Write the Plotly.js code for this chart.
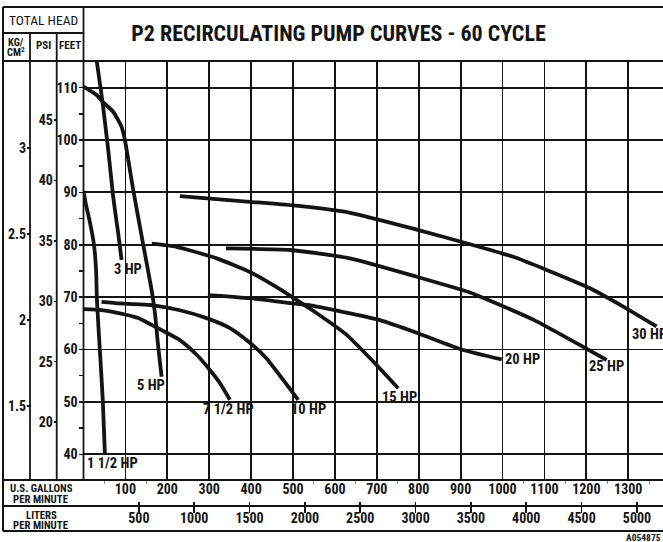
<!DOCTYPE html>
<html>
<head>
<meta charset="utf-8">
<script src="https://cdn.plot.ly/plotly-3.0.1.min.js"></script>
<style>html,body{margin:0;padding:0;background:#fff;}#chart{width:663px;height:542px;}</style>
</head>
<body>
<div id="chart"></div>
<script>
// ---------- DATA ----------
const gpmTicks = [100,200,300,400,500,600,700,800,900,1000,1100,1200,1300];
const gpmMinorTicks = [50,150,550,650,750,1050,1150,1250,1350];
const litersTicks = [500,1000,1500,2000,2500,3000,3500,4000,4500,5000];
const feetTicks = [40,50,60,70,80,90,100,110];
const psiTicks = [20,25,30,35,40,45];
const kgTicks = [1.5,2,2.5,3];
const kgTickText = ['1.5','2','2.5','3'];

// curves: flow (US gpm) vs total head (feet)
const hp1_5_gpm = [0, 6, 15, 25, 30, 32, 39, 46, 51];
const hp1_5_ft  = [90.3, 87.6, 84.4, 80.0, 75.2, 69.5, 59.9, 50.4, 40.2];
const hp3_gpm = [31, 45.6, 59, 70.9, 82.8, 90.9];
const hp3_ft  = [115.4, 107.1, 98.1, 89.1, 82.2, 77.1];
const hp5_gpm = [0, 31.3, 45.6, 70.9, 90.9, 98.8, 118.6, 142.5, 162.5, 170.4, 178.3, 186.4];
const hp5_ft  = [110.2, 108.6, 107.3, 105.4, 102.5, 100.0, 90.5, 80.0, 71.4, 67.0, 60.5, 54.8];
const hp7_5_gpm = [0, 43.2, 86.9, 130.5, 162.5, 186.4, 230, 270, 301.7, 325.5, 349.4];
const hp7_5_ft  = [67.7, 67.5, 66.9, 66.0, 64.7, 63.7, 61.8, 59.0, 56.1, 53.6, 50.4];
const hp10_gpm = [43.2, 86.9, 158.5, 178.3, 230, 293.8, 349.4, 397, 437, 476.6, 512.4];
const hp10_ft  = [69.1, 68.8, 68.5, 68.3, 67.5, 66.0, 64.1, 61.3, 58.3, 54.2, 50.4];
const hp15_gpm = [163, 222, 318, 397, 461, 500, 548, 628, 700, 751];
const hp15_ft  = [80.2, 79.6, 77.4, 74.8, 71.9, 69.9, 67.4, 62.8, 57.0, 52.6];
const hp20_gpm = [296.9, 397.1, 487.8, 544.4, 635.8, 707.4, 795, 906.2, 997.9];
const hp20_ft  = [70.4, 69.8, 68.9, 68.4, 66.9, 65.6, 63.2, 59.9, 58.1];
const hp25_gpm = [339.9, 492.6, 635.8, 795, 922.2, 962, 1073.3, 1192.6, 1248.4];
const hp25_ft  = [79.3, 79.0, 77.4, 73.9, 70.9, 69.6, 65.7, 60.5, 58.0];
const hp30_gpm = [230, 397.1, 500.5, 636.5, 795, 922.2, 1025.5, 1105.3, 1208.6, 1288.1, 1367.8];
const hp30_ft  = [89.3, 88.2, 87.5, 86.1, 82.9, 80.1, 77.7, 75.2, 71.7, 68.2, 64.4];

const curveNames = ['1 1/2 HP','3 HP','5 HP','7 1/2 HP','10 HP','15 HP','20 HP','25 HP','30 HP'];
// label anchor positions (gpm, feet)
const labelGpm = [3, 106, 161, 345, 536, 755, 1001, 1249, 1304];
const labelFt  = [38.3, 75.2, 53.1, 48.5, 48.5, 50.8, 58.0, 56.7, 62.8];
const labelAnchor = ['left','center','center','center','center','center','left','center','left'];

// unit conversions
const FT_PER_PSI = 2.3067;
const FT_PER_KG = 32.81;
const L_PER_GAL = 3.78541;

// ---------- LAYOUT ----------
const W = 663, H = 542;
const F = '"Liberation Sans Narrow", "Arial Narrow", "Roboto Condensed", "DejaVu Sans Condensed", Arial, sans-serif';
const INK = '#141414';
const px = v => v / W;          // paper x from pixel
const py = v => (H - v) / H;    // paper y from pixel

const plotL = 83.5, plotT = 61, plotB = 480;
const ftRange = [35.09, 115.08];
const gpmRange = [0, 1383];

const curves = [
  [hp1_5_gpm, hp1_5_ft], [hp3_gpm, hp3_ft], [hp5_gpm, hp5_ft],
  [hp7_5_gpm, hp7_5_ft], [hp10_gpm, hp10_ft], [hp15_gpm, hp15_ft],
  [hp20_gpm, hp20_ft], [hp25_gpm, hp25_ft], [hp30_gpm, hp30_ft]
];
const traces = curves.map((c, i) => ({
  type: 'scatter', mode: 'lines', x: c[0], y: c[1], name: curveNames[i],
  xaxis: 'x', yaxis: 'y', hoverinfo: 'skip',
  line: {color: INK, width: 3.8, shape: 'spline', smoothing: 0.5}
}));

const tickFont = {family: F, size: 14, color: INK, weight: 700};

const annotations = curveNames.map((n, i) => ({
  text: n, x: labelGpm[i], y: labelFt[i], xref: 'x', yref: 'y',
  xanchor: labelAnchor[i], yanchor: 'middle', showarrow: false,
  font: {family: F, size: 14.5, color: INK, weight: 700}
}));
function txt(t, x, y, size, bold, xa, h) {
  const a = {text: t, x: px(x), y: py(y), xref: 'paper', yref: 'paper',
    xanchor: xa || 'center', yanchor: 'middle', showarrow: false,
    font: {family: F, size: size, color: INK, weight: bold ? 700 : 400}};
  if (h) { a.height = h; }
  annotations.push(a);
}
txt('TOTAL HEAD', 43, 20, 13.5, false);
txt('KG/', 16, 41.5, 10.5, true, 'center', 10);
txt('CM<sup>2</sup>', 16, 52, 10.5, true, 'center', 10);
txt('PSI', 43.5, 46, 11, true);
txt('FEET', 70, 46, 11, true);
txt('U.S. GALLONS', 41, 488, 10.8, true, 'center', 10);
txt('PER MINUTE', 41, 499, 10.8, true, 'center', 10);
txt('LITERS', 41, 514.5, 10.8, true, 'center', 10);
txt('PER MINUTE', 41, 525, 10.8, true, 'center', 10);
txt('A054875', 663, 537, 9.5, true, 'right');

function hl(y, x0, x1, w) { return {type:'line', xref:'paper', yref:'paper', x0:px(x0), x1:px(x1), y0:py(y), y1:py(y), line:{color:INK, width:w||1.8}}; }
function vl(x, y0, y1, w) { return {type:'line', xref:'paper', yref:'paper', x0:px(x), x1:px(x), y0:py(y0), y1:py(y1), line:{color:INK, width:w||1.8}}; }
const shapes = [
  hl(7, 3, 663, 2), hl(531, 3, 663, 2), vl(3, 7, 531, 2),
  hl(33, 3, 83.5), hl(61, 3, 663), vl(83.5, 7, 480),
  vl(30, 33, 480), vl(56.7, 33, 480),
  hl(480, 3, 663), hl(506, 3, 663)
];

const litRange = [gpmRange[0]*L_PER_GAL, gpmRange[1]*L_PER_GAL];
const layout = {
  width: W, height: H, margin: {l:0, r:0, t:0, b:0},
  paper_bgcolor: '#fff', plot_bgcolor: '#fff', showlegend: false,
  title: {text: 'P2 RECIRCULATING PUMP CURVES - 60 CYCLE', xref:'container', yref:'container',
    x: 338.5/W, xanchor:'center', y: 1 - 33/H, yanchor:'middle',
    font: {family: F, size: 22, color: INK, weight: 700}},
  xaxis: {domain: [px(plotL), 1], range: gpmRange, anchor: 'y',
    tickmode: 'array', tickvals: gpmTicks, ticks: '', showline: false, zeroline: false,
    showgrid: true, gridcolor: INK, gridwidth: 1.8, tickfont: tickFont, ticklabelstandoff: -1,
    minor: {tickmode: 'array', tickvals: gpmMinorTicks, ticks: 'outside', ticklen: 3, tickcolor: '#888', tickwidth: 1, showgrid: false}},
  // liters labels
  xaxis2: {overlaying: 'x', anchor: 'free', position: py(506), side: 'bottom',
    range: litRange, tickmode: 'array', tickvals: litersTicks, ticklabelstandoff: 2,
    ticks: '', showgrid: false, showline: false, zeroline: false, tickfont: tickFont},
  // liters tick marks crossing the separator line
  xaxis3: {overlaying: 'x', anchor: 'free', position: py(501), side: 'bottom',
    range: litRange, tickmode: 'array', tickvals: litersTicks,
    ticks: 'outside', ticklen: 11, tickwidth: 1.6, tickcolor: INK, showgrid: false, showline: false,
    zeroline: false, showticklabels: false},
  yaxis: {domain: [py(plotB), py(plotT)], range: ftRange, anchor: 'x',
    tickmode: 'array', tickvals: feetTicks, ticks: 'outside', ticklen: 4, tickwidth: 1.5, tickcolor: INK,
    showgrid: true, gridcolor: INK, gridwidth: 1.8, showline: false, zeroline: false, tickfont: tickFont,
    ticklabelstandoff: -2,
    minor: {dtick: 5, tick0: 35, ticks: 'outside', ticklen: 4, tickwidth: 1.5, tickcolor: INK, showgrid: false}},
  yaxis2: {overlaying: 'y', anchor: 'free', position: px(56.7), side: 'left',
    range: [ftRange[0]/FT_PER_PSI, ftRange[1]/FT_PER_PSI], tickmode: 'array', tickvals: psiTicks,
    ticks: 'outside', ticklen: 3, tickwidth: 1.5, tickcolor: INK, showgrid: false, showline: false,
    zeroline: false, tickfont: tickFont, ticklabelstandoff: -2},
  yaxis3: {overlaying: 'y', anchor: 'free', position: px(30), side: 'left',
    range: [ftRange[0]/FT_PER_KG, ftRange[1]/FT_PER_KG], tickmode: 'array', tickvals: kgTicks,
    ticktext: kgTickText, ticks: 'outside', ticklen: 3, tickwidth: 1.5, tickcolor: INK,
    showgrid: false, showline: false, zeroline: false, tickfont: tickFont, ticklabelstandoff: -2},
  shapes: shapes, annotations: annotations
};

// invisible traces so the secondary axes render
traces.push({type:'scatter', mode:'markers', x:[litersTicks[0]], y:[feetTicks[0]], xaxis:'x2', yaxis:'y', marker:{opacity:0}, hoverinfo:'skip'});
traces.push({type:'scatter', mode:'markers', x:[litersTicks[0]], y:[feetTicks[0]], xaxis:'x3', yaxis:'y', marker:{opacity:0}, hoverinfo:'skip'});
traces.push({type:'scatter', mode:'markers', x:[gpmTicks[0]], y:[psiTicks[0]], xaxis:'x', yaxis:'y2', marker:{opacity:0}, hoverinfo:'skip'});
traces.push({type:'scatter', mode:'markers', x:[gpmTicks[0]], y:[kgTicks[0]], xaxis:'x', yaxis:'y3', marker:{opacity:0}, hoverinfo:'skip'});

Plotly.newPlot('chart', traces, layout, {staticPlot: true, displayModeBar: false});
</script>
</body>
</html>
